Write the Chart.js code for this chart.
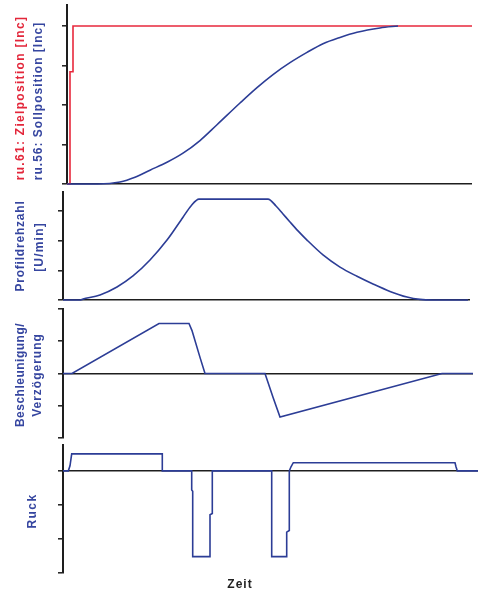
<!DOCTYPE html>
<html><head><meta charset="utf-8">
<script src="https://cdn.jsdelivr.net/npm/chart.js@4/dist/chart.umd.min.js"></script>
<style>
html,body{margin:0;padding:0;background:#fff;}
#wrap{position:relative;width:478px;height:591px;overflow:hidden;background:#fff;}
#wrap canvas{position:absolute;left:0;top:0;}
.lbl{position:absolute;transform:translate(-50%,-50%) rotate(-90deg);white-space:nowrap;font:bold 12px "Liberation Sans",Arial,sans-serif;letter-spacing:1px;color:#3646a0;line-height:14px;}
.xl{position:absolute;transform:translate(-50%,-50%);white-space:nowrap;font:bold 12px "Liberation Sans",Arial,sans-serif;letter-spacing:1px;color:#222;}
</style></head><body>
<div id="wrap">
<canvas id="c1" width="478" height="591"></canvas>
<canvas id="c2" width="478" height="591"></canvas>
<canvas id="c3" width="478" height="591"></canvas>
<canvas id="c4" width="478" height="591"></canvas>
<div class="lbl" style="left:20px;top:98px;color:#e3263a;letter-spacing:1.3px">ru.61: Zielposition [Inc]</div>
<div class="lbl" style="left:38px;top:101px;letter-spacing:1px">ru.56: Sollposition [Inc]</div>
<div class="lbl" style="left:20px;top:246px;letter-spacing:0.8px">Profildrehzahl</div>
<div class="lbl" style="left:39px;top:247px;letter-spacing:1.2px">[U/min]</div>
<div class="lbl" style="left:20px;top:375px;letter-spacing:0.5px">Beschleunigung/</div>
<div class="lbl" style="left:37px;top:375px;letter-spacing:1px">Verzögerung</div>
<div class="lbl" style="left:32px;top:511px;letter-spacing:1.4px">Ruck</div>
<div class="xl" style="left:240px;top:584px">Zeit</div>
</div>
<script>
// ---- data (time in arbitrary units along each panel) ----
const targetTime = [0, 3, 3, 6, 6, 405];
const targetPos  = [0, 0, 2.84, 2.84, 4, 4];
const setTime = [0, 31, 53, 68, 83, 100, 116, 133, 150, 173, 190, 206, 223, 240, 256, 273, 290, 313, 331];
const setPos  = [0, 0, 0.05, 0.17, 0.35, 0.55, 0.78, 1.1, 1.5, 2.05, 2.44, 2.77, 3.07, 3.33, 3.55, 3.71, 3.84, 3.95, 4];
const speedTime = [0, 17, 20, 37, 54, 70, 87, 104, 120, 128, 136, 205, 213, 220, 227, 235, 244, 260, 277, 294, 310, 327, 344, 357, 370, 405];
const speedVal  = [0, 0, 0.03, 0.17, 0.44, 0.81, 1.35, 2.02, 2.79, 3.17, 3.4, 3.4, 3.17, 2.9, 2.63, 2.33, 2.02, 1.52, 1.11, 0.8, 0.54, 0.29, 0.1, 0.02, 0, 0];
const accTime = [0, 9, 96, 126, 129, 137, 142, 202, 210, 217, 379, 410];
const accVal  = [0, 0, 1.55, 1.55, 1.33, 0.5, 0, 0, -0.74, -1.35, 0, 0];
const jerkTime = [0, 5.3, 7, 8.7, 99.3, 99.3, 128.7, 128.7, 129.7, 129.7, 147, 147, 149.3, 149.3, 208.7, 208.7, 223.7, 223.7, 226.3, 226.3, 228, 230.3, 392, 393, 394.3, 415];
const jerkVal  = [0, 0, 0.15, 0.5, 0.5, 0, 0, -0.56, -0.6, -2.52, -2.52, -1.29, -1.25, 0, 0, -2.52, -2.52, -1.8, -1.75, 0, 0.12, 0.24, 0.24, 0.12, 0, 0];
const posTicks = [0, 1, 2, 3, 4];
const speedTicks = [0, 1, 2, 3];
const accTicks = [-2, -1, 0, 1, 2];
const jerkTicks = [-3, -2, -1, 0];

const BLUE = '#2c3d96', RED = '#e8283c', AX = '#1e1e1e';
const pts = (t, v) => t.map((x, i) => ({x: x, y: v[i]}));

function panel(id, area, xMax, yMin, yMax, ticks, datasets) {
  new Chart(document.getElementById(id), {
    type: 'line',
    data: { datasets: datasets.map(d => ({
      data: d.data, borderColor: d.color, borderWidth: 1.6, pointRadius: 0,
      tension: d.smooth ? 0.4 : 0, cubicInterpolationMode: d.smooth ? 'monotone' : 'default',
      fill: false, clip: false, borderJoinStyle: 'miter'
    })) },
    options: {
      responsive: false, animation: false, events: [],
      layout: { padding: { left: area.l - 6, right: 478 - area.r, top: area.t, bottom: 591 - area.b } },
      plugins: { legend: { display: false }, tooltip: { enabled: false } },
      scales: {
        x: { type: 'linear', display: false, min: 0, max: xMax },
        y: {
          type: 'linear', min: yMin, max: yMax,
          afterBuildTicks: s => { s.ticks = ticks.map(v => ({ value: v })); },
          afterFit: s => { s.width = 6; },
          ticks: { display: false },
          border: { display: true, color: AX, width: 2 },
          grid: {
            drawOnChartArea: true, drawTicks: true, tickLength: 5,
            color: c => (c.tick && c.tick.value === 0) ? AX : 'rgba(0,0,0,0)',
            lineWidth: 1.6, tickColor: AX, tickWidth: 1.5
          }
        }
      }
    }
  });
}

panel('c1', {l: 67, r: 472, t: 5, b: 184}, 405, 0, 4.53, posTicks, [
  { data: pts(setTime, setPos), color: BLUE, smooth: true },
  { data: pts(targetTime, targetPos), color: RED }
]);
panel('c2', {l: 63, r: 470, t: 192, b: 300}, 407, 0, 3.64, speedTicks, [
  { data: pts(speedTime, speedVal), color: BLUE, smooth: true }
]);
panel('c3', {l: 63, r: 473, t: 309, b: 438}, 410, -2, 2, accTicks, [
  { data: pts(accTime, accVal), color: BLUE }
]);
panel('c4', {l: 63, r: 478, t: 445, b: 573}, 415, -3, 0.76, jerkTicks, [
  { data: pts(jerkTime, jerkVal), color: BLUE }
]);
</script>
</body></html>
